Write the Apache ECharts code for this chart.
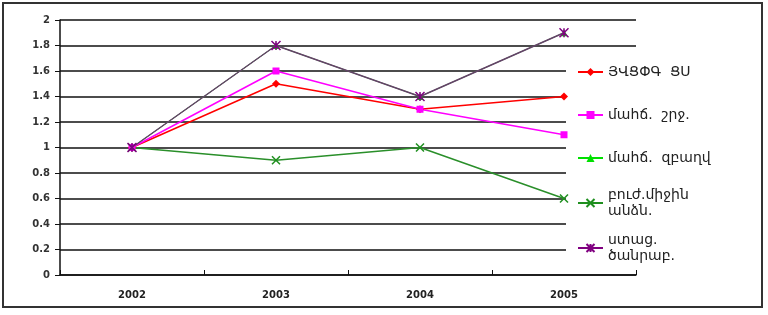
<!DOCTYPE html>
<html>
<head>
<meta charset="utf-8">
<script src="https://cdn.jsdelivr.net/npm/echarts@6/dist/echarts.min.js"></script>
<style>
html,body{margin:0;padding:0;background:#fff;}
#chart{width:768px;height:315px;}
</style>
</head>
<body>
<div id="chart"></div>
<script>
const categories = ['2002', '2003', '2004', '2005'];
const seriesNames = ['ՅՎՑՓԳ  ՑՍ', 'մահճ.  շրջ.', 'մահճ.  զբաղվ', 'բուժ.միջին\nանձն.', 'ստաց.\nծանրաբ.'];
const s1 = [1, 1.5, 1.3, 1.4];
const s2 = [1, 1.6, 1.3, 1.1];
const s3 = [1, 1.8, 1.4, 1.9];
const s4 = [1, 0.9, 1, 0.6];
const s5 = [1, 1.8, 1.4, 1.9];
const yTicks = { min: 0, max: 2, interval: 0.2 };

const colors = ['#ff0000', '#ff00ff', '#00e000', '#1f8f1f', '#800080'];
const lineColors = ['#ff0000', '#ff00ff', '#00e000', '#2a8f2a', '#66406a'];
const symbols = ['diamond', 'rect', 'triangle', 'path://M0,0L10,10M10,0L0,10', 'path://M0,0L10,10M10,0L0,10M5,0L5,10'];
const symbolSizes = [8, 7, 7, 8, 9];
const datas = [s1, s2, s3, s4, s5];
const legendCenters = [67, 110, 153, 198, 243];

const chart = echarts.init(document.getElementById('chart'));
const series = datas.map((d, i) => ({
  name: seriesNames[i],
  type: 'line',
  data: d,
  symbol: symbols[i],
  symbolSize: symbolSizes[i],
  showAllSymbol: true,
  z: 3 + (i === 2 ? 0 : 1),
  lineStyle: { color: lineColors[i], width: i === 2 ? 1 : 1.5 },
  itemStyle: {
    color: colors[i],
    borderColor: colors[i],
    borderWidth: (i >= 3) ? 1.5 : 0
  },
  emphasis: { disabled: true },
  animation: false
}));

const legends = seriesNames.map((n, i) => {
  const multi = n.indexOf('\n') >= 0;
  return {
    data: [{ name: n, lineStyle: { color: colors[i], width: 2 } }],
    left: 572,
    top: multi ? legendCenters[i] - 24 : legendCenters[i] - 8,
    itemWidth: 25,
    itemHeight: 10,
    itemGap: 3,
    selectedMode: false,
    textStyle: {
      fontFamily: 'DejaVu Sans',
      fontSize: 14,
      color: '#222',
      lineHeight: 16,
      padding: multi ? [16, 0, 0, 0] : 0
    }
  };
});

chart.setOption({
  animation: false,
  backgroundColor: '#fff',
  grid: { left: 60, right: 132, top: 20, bottom: 40 },
  legend: legends,
  graphic: [
    { type: 'rect', z: 1, shape: { x: 566, y: 52, width: 180, height: 214 }, style: { fill: '#fff' } },
    { type: 'rect', z: 100, shape: { x: 3, y: 3, width: 759, height: 304 }, style: { fill: 'none', stroke: '#333', lineWidth: 2 } }
  ],
  xAxis: {
    type: 'category',
    data: categories,
    boundaryGap: true,
    axisLine: { lineStyle: { color: '#111', width: 1.5 } },
    axisTick: { show: true, inside: true, length: 5, lineStyle: { color: '#111' } },
    axisLabel: { margin: 15, fontSize: 10, fontFamily: 'DejaVu Sans', color: '#222', fontWeight: 'bold' },
    splitLine: { show: false }
  },
  yAxis: {
    type: 'value',
    min: yTicks.min,
    max: yTicks.max,
    interval: yTicks.interval,
    axisLine: { show: true, lineStyle: { color: '#111', width: 1.5 } },
    axisTick: { show: true, length: 5, lineStyle: { color: '#111' } },
    axisLabel: { margin: 10, fontSize: 10, fontFamily: 'DejaVu Sans', color: '#333', fontWeight: 'bold' },
    splitLine: { show: true, lineStyle: { color: '#111', width: 1.5 } }
  },
  series: series
});
</script>
</body>
</html>
